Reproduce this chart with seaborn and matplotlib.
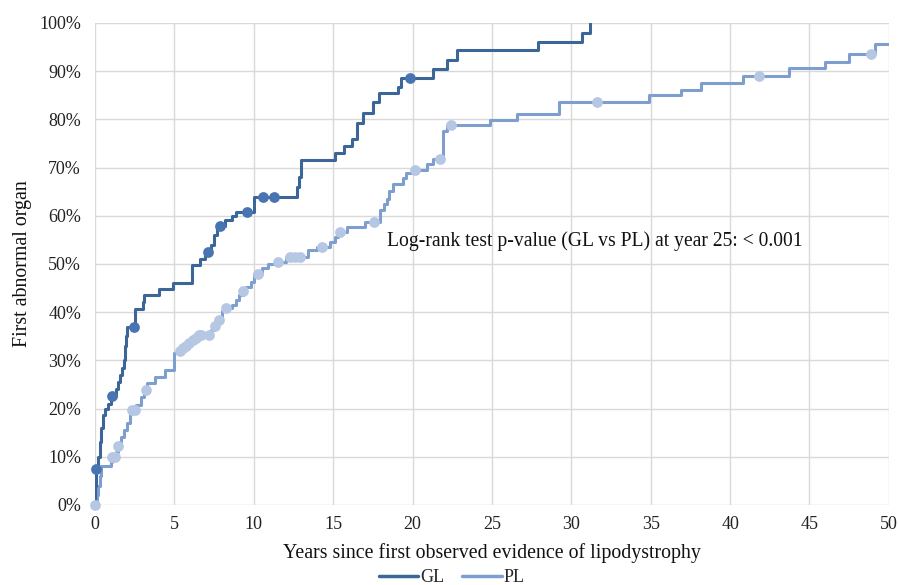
import numpy as np
import pandas as pd
import matplotlib
matplotlib.use("Agg")
import matplotlib.pyplot as plt
from matplotlib.lines import Line2D
from matplotlib.ticker import PercentFormatter
import seaborn as sns

# Cumulative incidence (%) of first abnormal organ, step-function event times (years)
gl_times = [0, 0.03, 0.05, 0.2, 0.3, 0.4, 0.5, 0.6, 0.8, 1.0, 1.3, 1.45, 1.6, 1.7,
            1.8, 1.87, 1.95, 2.0, 2.55, 3.0, 3.1, 4.0, 4.9, 6.1, 6.6, 6.9, 7.3,
            7.5, 7.7, 8.2, 8.6, 8.9, 10.0, 12.7, 12.85, 12.95, 15.1, 15.7, 16.2,
            16.5, 16.9, 17.5, 17.9, 19.1, 19.25, 21.3, 22.2, 22.8, 27.9, 30.65, 31.2]
gl_pct = [0, 4.0, 7.5, 10.0, 13.0, 16.0, 18.7, 20.0, 21.0, 22.6, 24.0, 25.5, 27.0, 28.5,
          30.0, 33.0, 35.0, 37.0, 40.7, 42.2, 43.6, 44.8, 46.0, 49.8, 51.0, 52.5, 54.0,
          56.0, 57.9, 59.2, 60.0, 60.8, 63.8, 66.0, 68.0, 71.5, 73.0, 74.5, 76.0,
          79.3, 81.3, 83.7, 85.5, 86.8, 88.6, 90.5, 92.3, 94.3, 96.1, 97.9, 100.0]
gl_censored = [0.06, 1.05, 2.45, 7.1, 7.9, 9.6, 10.6, 11.3, 19.85]

pl_times = [0, 0.1, 0.2, 0.3, 0.4, 1.0, 1.1, 1.3, 1.45, 1.55, 1.65, 1.8, 2.0, 2.2,
            2.3, 2.6, 2.9, 3.1, 3.3, 3.8, 4.4, 5.0, 5.3, 5.5, 5.7, 5.9, 6.1, 6.3,
            6.5, 7.3, 7.5, 7.75, 8.0, 8.2, 8.6, 8.9, 9.1, 9.3, 9.5, 9.8, 10.0,
            10.5, 10.9, 11.4, 12.0, 13.4, 14.0, 14.8, 15.1, 15.3, 15.85, 17.0,
            17.95, 18.2, 18.4, 18.5, 18.8, 19.4, 19.6, 20.0, 20.9, 21.3, 21.9,
            22.2, 24.85, 26.6, 29.25, 34.9, 36.9, 38.2, 40.8, 43.7, 46.0, 47.5,
            49.1, 50.0]
pl_pct = [0, 2.0, 4.0, 6.0, 8.0, 9.0, 10.0, 11.0, 12.2, 13.0, 14.0, 15.5, 17.0, 19.0,
          19.7, 20.7, 22.5, 23.9, 25.3, 26.6, 28.0, 31.5, 32.0, 32.5, 33.0, 33.7, 34.2, 34.6,
          35.2, 36.2, 37.2, 38.4, 40.2, 40.8, 41.5, 42.5, 43.5, 44.3, 45.3, 46.3, 47.9,
          49.2, 49.9, 50.5, 51.4, 53.0, 53.6, 54.6, 55.7, 56.6, 57.6, 58.7,
          61.2, 62.5, 63.5, 65.2, 66.6, 67.8, 68.8, 69.6, 70.7, 71.8, 77.5,
          78.8, 79.9, 81.2, 83.7, 85.1, 86.2, 87.6, 88.9, 90.6, 92.0, 93.6,
          95.7, 95.7]
pl_censored = [0.0, 1.1, 1.25, 1.45, 2.3, 2.5, 3.2, 5.35, 5.55, 5.75, 5.95, 6.15,
               6.35, 6.55, 6.65, 7.2, 7.55, 7.8, 8.25, 9.3, 10.25, 11.55, 12.3,
               12.6, 12.9, 14.3, 15.45, 17.6, 20.15, 21.7, 22.45, 31.6, 41.8, 48.9]

x_ticks = list(range(0, 51, 5))
y_ticks = list(range(0, 101, 10))
annotation = "Log-rank test p-value (GL vs PL) at year 25: < 0.001"

GL_LINE, GL_DOT = "#3c6698", "#4874b2"
PL_LINE, PL_DOT = "#7f9ed0", "#b6c7e3"


def step_value(times, pct, t):
    idx = np.searchsorted(times, t, side="right") - 1
    return np.asarray(pct)[idx]


curves = pd.DataFrame({
    "years": gl_times + pl_times,
    "pct": gl_pct + pl_pct,
    "group": ["GL"] * len(gl_times) + ["PL"] * len(pl_times),
})
censor = pd.DataFrame({
    "years": gl_censored + pl_censored,
    "pct": list(step_value(gl_times, gl_pct, gl_censored)) + list(step_value(pl_times, pl_pct, pl_censored)),
    "group": ["GL"] * len(gl_censored) + ["PL"] * len(pl_censored),
})

sns.set_style("white")
plt.rcParams["font.family"] = ["Liberation Serif", "DejaVu Serif"]

fig = plt.figure(figsize=(8.98, 5.85), dpi=100)
ax = fig.add_axes([0.1058, 0.1368, 0.884, 0.8239])

for grp, line_col in [("PL", PL_LINE), ("GL", GL_LINE)]:
    sub = curves[curves["group"] == grp]
    sns.lineplot(data=sub, x="years", y="pct", ax=ax, color=line_col, lw=2.2,
                 drawstyle="steps-post", estimator=None, sort=False, legend=False,
                 zorder=3)
for grp, dot_col in [("PL", PL_DOT), ("GL", GL_DOT)]:
    sub = censor[censor["group"] == grp]
    sns.scatterplot(data=sub, x="years", y="pct", ax=ax, color=dot_col, s=60,
                    linewidth=0, legend=False, zorder=4, clip_on=False)

ax.set_xlim(0, 50)
ax.set_ylim(0, 100)
ax.set_xticks(x_ticks)
ax.set_yticks(y_ticks)
ax.yaxis.set_major_formatter(PercentFormatter(decimals=0))
ax.grid(True, color="#d9d9d9", lw=1)
ax.set_axisbelow(True)
for s in ax.spines.values():
    s.set_visible(False)
ax.tick_params(axis="both", length=0, labelsize=13, colors="#222222")
ax.tick_params(axis="y", pad=10)
ax.tick_params(axis="x", pad=8)

ax.set_xlabel("Years since first observed evidence of lipodystrophy", fontsize=14.3,
              color="#111111", labelpad=7)
ax.set_ylabel("First abnormal organ", fontsize=14.3, color="#111111", labelpad=5)

ax.text(18.4, 54.8, annotation, fontsize=14.1, color="#111111", va="center", ha="left")

handles = [Line2D([], [], color=GL_LINE, lw=2.5), Line2D([], [], color=PL_LINE, lw=2.5)]
fig.legend(handles, ["GL", "PL"], loc="lower center", bbox_to_anchor=(0.503, -0.03),
           ncol=2, frameon=False, fontsize=13, handlelength=2.2, handletextpad=0.1,
           columnspacing=1.0)

fig.savefig("out.png", dpi=100)
